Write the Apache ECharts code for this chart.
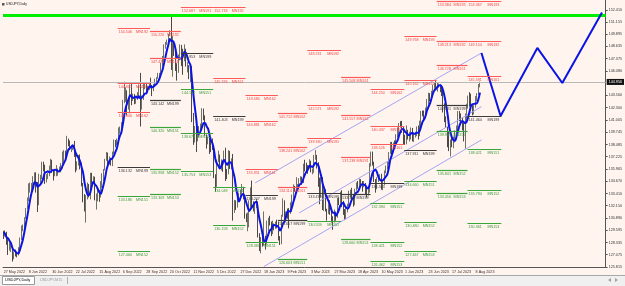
<!DOCTYPE html>
<html><head><meta charset="utf-8">
<script src="https://cdn.jsdelivr.net/npm/echarts@6/dist/echarts.min.js"></script>
<style>html,body{margin:0;padding:0;background:#fff4ee;}#c{width:625px;height:286px;}</style>
</head><body><div id="c"></div>
<script>
// ---------------- DATA ----------------
const symbolTitle = 'USDJPY,Daily';
const tabNames = ['USDJPY,Daily', 'USDJPY,M15'];
const firstBarDate = '2022-05-16';
const futureSlots = 85;               // empty bars to the right of the last candle
const firstOpen = 129.23;
const priorCloses = [130.43, 129.94, 128.33, 129.23]; // closes before first visible bar (MA warm-up)
const maPeriod = 5;

// daily closes, one row per week (Mon..Fri)
const closes = [
129.17,129.37,128.23,127.79,127.87, 127.88,126.83,127.33,127.12,127.11, 127.60,128.70,129.83,129.88,130.87,
131.88,132.65,134.25,134.35,134.39, 134.40,135.46,133.97,132.26,135.00, 135.03,136.67,136.23,134.96,135.21,
135.45,136.13,136.61,135.73,135.22, 135.71,135.87,135.93,136.02,136.12, 137.41,137.44,137.42,138.96,138.54,
138.14,138.19,138.21,137.34,136.07, 136.70,136.94,136.59,134.26,133.26, 131.62,133.19,134.23,133.89,135.00,
134.93,135.08,132.92,133.00,133.46, 133.28,134.24,135.01,135.89,136.93, 137.47,136.75,137.11,136.53,137.49,
138.75,138.74,138.96,140.21,140.21, 140.57,142.76,143.86,144.10,142.53, 142.82,144.56,143.15,143.47,142.93,
143.18,143.70,144.07,142.37,143.35, 144.24,144.75,144.15,144.44,144.74, 144.52,144.15,144.62,145.14,145.35,
145.71,145.80,146.91,147.21,148.74, 148.97,149.25,149.86,150.16,147.70, 148.99,148.01,146.39,146.27,147.48,
148.74,148.08,147.90,148.28,146.63, 146.63,145.60,146.47,141.00,138.77, 139.92,139.32,139.52,140.35,140.40,
142.07,141.19,139.53,138.62,139.20, 138.95,138.15,138.06,135.32,134.32, 136.75,137.01,136.55,136.60,136.55,
137.66,135.56,135.52,137.82,136.67, 136.88,131.72,132.43,132.40,132.87, 133.45,133.47,134.09,132.95,131.11,
130.68,131.11,132.14,134.04,132.09, 131.92,132.27,132.48,129.17,127.89, 128.52,128.32,128.90,128.39,129.58,
130.69,130.28,129.59,130.28,129.87, 130.41,130.09,128.92,128.62,131.19, 132.63,131.07,131.43,131.41,131.37,
132.42,133.15,134.13,133.94,134.15, 134.18,134.91,134.94,134.70,136.35, 136.23,136.19,136.16,136.68,135.86,
135.89,137.17,137.31,136.14,135.05, 133.24,134.22,133.43,133.73,131.83, 131.59,132.47,131.50,130.92,130.62,
131.53,130.91,132.84,132.70,132.82, 132.40,131.51,131.27,131.75,132.25, 133.34,133.70,133.10,132.54,133.76,
134.49,134.11,134.83,134.27,134.15, 134.27,133.73,133.64,133.95,136.27, 137.46,136.57,134.72,134.27,134.80,
135.12,135.19,134.31,134.49,135.73, 136.10,136.44,137.63,138.74,137.95, 138.59,138.56,139.50,140.03,140.61,
140.43,139.81,139.37,138.80,139.97, 139.54,139.64,140.10,139.27,139.38, 139.56,140.25,140.03,140.28,141.86,
141.81,141.45,141.90,143.10,143.72, 143.52,143.98,144.51,144.80,144.31, 144.64,144.71,144.57,144.12,142.13,
141.34,140.33,139.89,138.06,138.80, 138.74,139.16,139.63,140.09,141.73, 141.48,140.95,140.30,139.63,141.16,
142.28,143.34,143.31,142.59,141.76, 142.46,143.39,143.72,144.73,144.96
];
const highs = [
129.55,129.60,129.45,128.90,128.30, 128.25,127.90,127.40,127.60,127.30, 127.85,128.85,130.10,130.20,130.95,
131.90,133.00,134.45,134.55,134.50, 135.20,135.60,135.60,134.60,135.45, 135.35,136.70,136.70,136.40,135.40,
135.55,136.30,137.00,136.90,135.90, 135.95,136.35,136.00,136.20,136.55, 137.75,137.90,137.85,139.38,139.10,
138.90,138.40,138.40,138.85,137.60, 136.75,137.40,137.45,136.60,134.50, 133.35,133.25,134.55,134.40,135.55,
135.55,135.20,135.15,133.40,133.90, 133.75,134.70,135.50,135.95,137.00, 137.70,137.65,137.25,137.10,137.75,
139.00,138.95,139.10,140.25,140.35, 140.80,143.10,144.99,144.40,144.10, 143.25,144.70,144.95,143.75,143.70,
143.45,143.90,144.70,145.90,143.55, 144.80,144.80,144.85,144.55,144.90, 145.40,144.65,144.75,145.30,145.45,
145.90,145.90,146.95,147.65,148.85, 149.10,149.35,149.95,150.30,151.95, 149.70,149.05,148.20,146.90,147.80,
148.85,148.80,148.40,148.85,148.40, 147.00,146.70,146.60,146.60,141.75, 140.40,140.80,139.95,140.40,140.65,
142.25,142.20,141.50,139.50,139.30, 139.10,139.10,139.10,138.10,135.40, 136.90,137.85,137.45,136.95,136.80,
137.85,138.15,135.95,137.90,137.80, 137.05,137.50,132.75,132.70,133.00, 133.50,133.80,134.40,134.10,133.10,
131.35,131.45,132.70,134.05,134.75, 132.60,132.30,132.85,132.60,129.30, 128.90,129.10,131.55,129.05,130.60,
130.90,131.10,130.50,130.60,130.30, 130.50,130.70,130.50,129.00,131.20, 132.90,132.70,131.55,131.85,131.90,
132.50,133.30,134.35,134.20,135.10, 134.40,135.00,135.20,135.15,136.50, 136.90,136.60,136.35,136.95,136.80,
136.00,137.40,137.91,137.40,136.65, 134.70,135.10,135.10,133.80,133.85, 131.80,132.65,132.70,131.70,131.05,
131.75,131.55,132.95,133.00,133.60, 133.75,132.65,131.80,132.00,132.35, 133.70,133.80,134.00,133.30,133.90,
134.55,134.70,134.95,134.90,134.70, 134.70,134.50,134.05,134.20,136.55, 137.75,137.75,136.70,134.90,135.10,
135.25,135.40,135.45,134.85,135.80, 136.30,136.70,137.70,138.75,138.75, 138.70,138.90,139.55,140.25,140.70,
140.90,140.93,140.35,139.50,140.45, 140.00,139.80,140.25,140.20,139.60, 139.80,140.35,140.45,140.95,141.95,
142.00,142.00,142.30,143.20,143.85, 143.80,144.05,144.65,144.90,145.07, 144.90,144.80,144.70,144.65,144.20,
142.75,141.40,140.40,139.70,139.00, 139.40,139.30,139.95,140.45,141.95, 141.95,141.70,141.25,140.75,141.70,
142.70,143.55,143.90,143.75,142.60, 142.55,143.50,143.80,144.75,145.00
];
const lows = [
128.70,128.95,128.10,127.05,127.50, 127.35,126.36,126.60,126.90,126.80, 127.00,127.50,128.60,129.50,129.80,
130.80,131.80,132.60,133.50,133.40, 133.60,134.30,133.50,131.50,132.20, 134.30,134.90,135.70,134.40,134.55,
134.90,135.20,135.85,135.55,134.75, 135.20,135.20,135.25,135.60,135.60, 136.00,136.60,136.90,137.30,138.30,
137.90,137.70,137.90,137.20,135.60, 135.80,136.30,135.90,134.15,132.50, 131.55,130.40,132.80,133.00,132.80,
134.40,134.40,132.70,131.75,132.60, 132.55,133.00,134.00,134.70,135.80, 136.80,136.10,136.40,136.30,136.25,
137.80,138.20,138.40,138.80,139.60, 140.00,140.40,142.80,142.90,141.50, 142.10,141.70,142.55,143.00,142.65,
142.70,143.10,143.40,140.35,142.10, 143.10,144.20,143.90,143.90,144.15, 144.30,143.50,144.00,144.50,144.70,
145.30,145.35,145.70,146.60,147.00, 148.40,148.80,149.20,149.70,146.20, 145.50,147.65,146.10,145.10,145.90,
147.20,146.60,145.70,147.10,146.55, 145.95,145.25,144.95,140.80,138.45, 138.70,137.70,138.80,139.20,139.60,
140.30,141.00,139.40,138.05,138.50, 137.50,137.70,137.90,135.00,133.60, 134.10,136.65,136.20,135.80,135.65,
136.40,134.70,134.90,135.40,135.95, 135.90,130.60,131.40,131.70,131.95, 132.80,132.70,133.30,132.80,130.80,
130.45,129.50,129.90,131.90,132.00, 131.55,131.30,131.90,128.85,127.45, 127.21,127.90,128.00,127.60,128.20,
129.50,130.10,129.00,129.20,129.60, 129.75,129.80,128.55,128.08,128.15, 131.00,130.50,130.90,130.80,129.80,
131.30,131.50,132.70,133.60,133.70, 133.90,133.90,134.60,134.30,134.50, 135.70,135.70,135.45,136.00,135.60,
135.40,135.55,136.90,136.00,134.10, 132.30,133.00,131.70,131.60,131.55, 130.60,131.30,131.20,130.40,129.65,
130.40,130.60,130.90,132.20,132.35, 132.00,131.20,130.65,130.75,131.45, 132.10,133.00,132.75,132.05,132.20,
133.70,133.90,133.90,134.10,133.60, 134.05,133.35,133.00,133.20,133.50, 136.20,136.30,134.60,133.50,133.85,
134.60,134.90,133.80,133.75,134.30, 135.50,135.90,136.40,137.50,137.40, 137.65,138.05,138.40,139.20,139.50,
140.25,139.70,138.45,138.45,138.50, 139.00,138.80,139.00,138.80,138.75, 139.20,139.35,139.00,139.35,139.95,
141.40,141.00,141.20,141.80,142.60, 142.95,143.40,143.80,144.20,144.10, 143.95,144.35,143.90,143.50,141.80,
140.80,140.20,138.20,137.80,137.24, 138.20,138.10,138.70,139.55,139.70, 140.90,140.80,139.95,138.80,138.05,
140.70,142.20,142.40,142.30,141.50, 141.60,142.30,143.00,143.60,144.40
];

// projected zig-zag path [bar index, price]
const projection = [[325, 147.96], [338, 141.44], [363, 148.48], [380, 144.85], [407, 152.15]];
// trend channel lines [bar index, price]
const channelUpper = [[171, 134.5], [325, 147.96]];
const channelMiddle = [[201, 131.4], [325, 142.4]];
const channelLower = [[177, 125.85], [325, 138.96]];

const greenLevel = 151.83;
const bidPrice = 144.956;

// monthly levels: [month, price, code]
const redLevels = [
 ['2022-09',150.546,'MN192'],['2022-09',144.801,'MN161'],['2022-09',141.806,'MN162'],
 ['2022-10',150.226,'MN192'],['2022-10',147.471,'MN161'],
 ['2022-11',152.687,'MN191'],
 ['2022-12',152.718,'MN192'],['2022-12',145.376,'MN161'],
 ['2023-01',143.580,'MN162'],['2023-01',140.881,'MN162'],['2023-01',135.951,'MN161'],
 ['2023-02',141.712,'MN162'],['2023-02',138.241,'MN162'],['2023-02',134.114,'MN161'],
 ['2023-03',148.231,'MN192'],['2023-03',142.571,'MN192'],['2023-03',139.180,'MN191'],
 ['2023-04',145.508,'MN161'],['2023-04',141.557,'MN162'],['2023-04',137.238,'MN191'],
 ['2023-05',144.250,'MN162'],['2023-05',140.437,'MN161'],['2023-05',138.526,'MN161'],
 ['2023-06',149.768,'MN193'],['2023-06',145.162,'MN162'],
 ['2023-07',153.384,'MN193'],['2023-07',149.213,'MN192'],['2023-07',146.728,'MN161'],
 ['2023-08',153.367,'MN193'],['2023-08',149.154,'MN192'],['2023-08',145.591,'MN161']
];
const blackLevels = [
 ['2022-09',136.132,'MN199'],['2022-10',143.142,'MN199'],['2022-11',147.953,'MN199'],
 ['2022-12',141.403,'MN199'],['2023-01',133.207,'MN199'],['2023-02',130.657,'MN199'],
 ['2023-03',133.479,'MN199'],['2023-04',133.360,'MN199'],['2023-05',134.503,'MN199'],
 ['2023-06',137.911,'MN199'],['2023-07',142.581,'MN199'],['2023-08',141.464,'MN199']
];
const greenLevels = [
 ['2022-09',133.186,'MN151'],['2022-09',127.460,'MN152'],
 ['2022-10',140.320,'MN151'],['2022-10',135.958,'MN152'],['2022-10',133.309,'MN153'],
 ['2022-11',144.192,'MN151'],['2022-11',139.678,'MN152'],['2022-11',135.753,'MN153'],
 ['2022-12',134.049,'MN151'],['2022-12',130.158,'MN152'],
 ['2023-01',128.387,'MN151'],
 ['2023-02',126.603,'MN151'],
 ['2023-03',130.559,'MN151'],
 ['2023-04',128.660,'MN151'],
 ['2023-05',132.394,'MN151'],['2023-05',128.421,'MN152'],['2023-05',126.462,'MN153'],
 ['2023-06',134.660,'MN151'],['2023-06',130.480,'MN152'],['2023-06',127.467,'MN153'],
 ['2023-07',139.905,'MN152'],['2023-07',135.841,'MN152'],['2023-07',133.456,'MN153'],
 ['2023-08',138.021,'MN151'],['2023-08',133.794,'MN152'],['2023-08',130.361,'MN153']
];

// axis tick labels
const yTickLabels = [152.410,151.155,149.895,148.635,147.375,146.080,143.560,142.300,141.005,139.745,
  138.485,137.225,135.965,134.670,133.410,132.150,130.890,129.595,128.335,127.075,125.815];
const firstXLabel = '27 May 2022';
const xTickLabels = ['8 Jun 2022','30 Jun 2022','22 Jul 2022','15 Aug 2022','6 Sep 2022','28 Sep 2022',
  '20 Oct 2022','11 Nov 2022','5 Dec 2022','27 Dec 2022','18 Jan 2023','9 Feb 2023','3 Mar 2023',
  '27 Mar 2023','18 Apr 2023','10 May 2023','1 Jun 2023','23 Jun 2023','17 Jul 2023','8 Aug 2023'];

// ---------------- BUILD ----------------
const MON = ['Jan','Feb','Mar','Apr','May','Jun','Jul','Aug','Sep','Oct','Nov','Dec'];
const totalSlots = closes.length + futureSlots;
const cats = [], catMonth = [];
(function () {
  const p = firstBarDate.split('-').map(Number);
  const d = new Date(Date.UTC(p[0], p[1] - 1, p[2]));
  while (cats.length < totalSlots) {
    const wd = d.getUTCDay();
    if (wd > 0 && wd < 6) {
      cats.push(d.getUTCDate() + ' ' + MON[d.getUTCMonth()] + ' ' + d.getUTCFullYear());
      catMonth.push(d.getUTCFullYear() + '-' + String(d.getUTCMonth() + 1).padStart(2, '0'));
    }
    d.setUTCDate(d.getUTCDate() + 1);
  }
})();
function monthRange(key) { return [catMonth.indexOf(key), catMonth.lastIndexOf(key) + 1]; }

// forex daily bar opens at previous close
const candles = closes.map((c, i) => {
  const o = i === 0 ? firstOpen : closes[i - 1];
  return [o, c, Math.min(lows[i], o, c), Math.max(highs[i], o, c)];
});
const allCloses = priorCloses.concat(closes);
const ma = closes.map((c, i) => {
  const j = i + priorCloses.length;
  let s = 0; for (let k = j - maPeriod + 1; k <= j; k++) s += allCloses[k];
  return +(s / maPeriod).toFixed(3);
});

const labelIdx = new Set(xTickLabels.map(l => cats.indexOf(l)));
labelIdx.add(0);

const FONT = 'Liberation Sans';
const TXT = 3.7;
function levelSeries(list, lineColor, textColor, width) {
  return {
    type: 'custom', silent: true, z: 6, clip: true,
    data: list.map(l => [monthRange(l[0])[0], l[1]]),
    encode: { x: 0, y: 1 },
    renderItem: function (params, api) {
      const lv = list[params.dataIndex];
      const r = monthRange(lv[0]);
      const bw = api.size([1, 0])[0];
      const p1 = api.coord([r[0], lv[1]]);
      const p2 = api.coord([r[1], lv[1]]);
      const x1 = p1[0] - bw / 2, x2 = p2[0] - bw / 2, y = Math.round(p1[1]) + 0.5;
      return { type: 'group', children: [
        { type: 'line', shape: { x1: x1, y1: y, x2: x2, y2: y }, style: { stroke: lineColor, lineWidth: width } },
        { type: 'text', x: x1 + 1, y: y + 1, style: { text: lv[1].toFixed(3), fill: textColor, fontSize: TXT, fontFamily: FONT, align: 'left', verticalAlign: 'top' } },
        { type: 'text', x: x2 - 2, y: y + 1, style: { text: lv[2], fill: textColor, fontSize: TXT, fontFamily: FONT, align: 'right', verticalAlign: 'top' } }
      ] };
    }
  };
}
function straight(pts, color, w, z) {
  return { type: 'line', data: pts, symbol: 'none', silent: true, z: z, lineStyle: { color: color, width: w }, animation: false };
}

const chart = echarts.init(document.getElementById('c'), null, { renderer: 'canvas' });
chart.setOption({
  animation: false,
  backgroundColor: '#fff4ee',
  grid: { left: 3, right: 18, top: 0, bottom: 19 },
  xAxis: {
    type: 'category', data: cats, boundaryGap: true,
    axisLine: { lineStyle: { color: '#555', width: 1 } },
    axisTick: { interval: (i) => labelIdx.has(i), length: 2, lineStyle: { color: '#555' } },
    axisLabel: { interval: (i) => labelIdx.has(i), formatter: (v, i) => i === 0 ? firstXLabel : v,
      showMinLabel: true, hideOverlap: false,
      fontSize: TXT, fontFamily: FONT, color: '#333', align: 'left', margin: 3 },
    splitLine: { show: false }
  },
  yAxis: {
    type: 'value', position: 'right', min: 125.80, max: 153.445, scale: true,
    axisLine: { show: true, lineStyle: { color: '#555' } },
    axisTick: { show: true, length: 2, customValues: yTickLabels, lineStyle: { color: '#555' } },
    axisLabel: { customValues: yTickLabels, formatter: v => v.toFixed(3), fontSize: TXT, fontFamily: FONT, color: '#333', margin: 3 },
    splitLine: { show: false }
  },
  series: [
    {
      type: 'candlestick', data: candles, z: 3, barMaxWidth: 1.2,
      itemStyle: { color: '#b4bca4', color0: '#1e1e1e', borderColor: '#4a5244', borderColor0: '#1e1e1e', borderWidth: 0.8 },
      markLine: {
        silent: true, symbol: ['none', 'none'], animation: false,
        data: [
          { yAxis: greenLevel, lineStyle: { color: '#00ee00', width: 3, type: 'solid' }, label: { show: false } },
          { yAxis: bidPrice, lineStyle: { color: '#b8b8b8', width: 1, type: 'solid' },
            label: { show: true, position: 'end', formatter: bidPrice.toFixed(3), color: '#fff', backgroundColor: '#111',
              fontSize: TXT, fontFamily: FONT, padding: [1, 2], distance: 1 } }
        ]
      }
    },
    straight(channelUpper, '#a5a5f2', 1, 4),
    straight(channelMiddle, '#a5a5f2', 1, 4),
    straight(channelLower, '#a5a5f2', 1, 4),
    { type: 'line', data: ma, symbol: 'none', smooth: 0.3, z: 5, silent: true, lineStyle: { color: '#0a14e6', width: 2 } },
    straight(projection, '#0a14e6', 2, 5),
    levelSeries(redLevels, '#ff5a5a', '#f04848', 1.2),
    levelSeries(blackLevels, '#3a3a3a', '#3a3a3a', 1.2),
    levelSeries(greenLevels, '#3aa63a', '#3a9a3a', 1.2)
  ],
  graphic: [
    { type: 'rect', left: 0, top: 275, shape: { width: 625, height: 11 }, style: { fill: '#f0f0f0' }, z: 100 },
    { type: 'line', shape: { x1: 0, y1: 275.5, x2: 625, y2: 275.5 }, style: { stroke: '#a8a8a8' }, z: 101 },
    { type: 'rect', shape: { x: 2.5, y: 276.5, width: 32, height: 8 }, style: { fill: '#ffffff', stroke: '#9a9a9a' }, z: 101 },
    { type: 'text', x: 5, y: 278, style: { text: tabNames[0], fill: '#000', fontSize: 4, fontFamily: FONT }, z: 102 },
    { type: 'text', x: 40, y: 278, style: { text: tabNames[1], fill: '#9a9a9a', fontSize: 3.7, fontFamily: FONT }, z: 102 },
    { type: 'line', shape: { x1: 67.5, y1: 277, x2: 67.5, y2: 284 }, style: { stroke: '#b0b0b0' }, z: 102 },
    { type: 'polygon', shape: { points: [[611, 278], [611, 282], [608, 280]] }, style: { fill: '#a0a0a0' }, z: 102 },
    { type: 'polygon', shape: { points: [[615, 278], [615, 282], [618, 280]] }, style: { fill: '#a0a0a0' }, z: 102 },
    { type: 'rect', shape: { x: 2, y: 3, width: 2.5, height: 2.5 }, style: { fill: '#555' }, z: 102 },
    { type: 'text', x: 6, y: 2.5, style: { text: symbolTitle, fill: '#111', fontSize: 3.3, fontFamily: FONT }, z: 102 }
  ]
});
</script></body></html>
